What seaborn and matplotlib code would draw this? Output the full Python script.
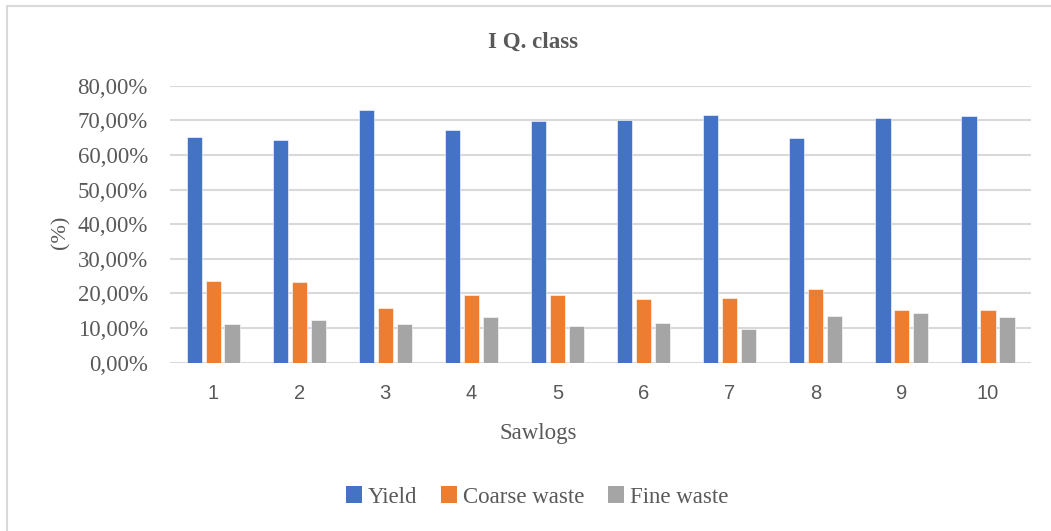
import matplotlib
matplotlib.use("Agg")
import matplotlib.pyplot as plt
from matplotlib.patches import Rectangle, Patch
from matplotlib.ticker import FuncFormatter, MultipleLocator
import seaborn as sns
import pandas as pd

# Sawlog processing results for the first quality class (percent of volume)
sawlogs = ["1", "2", "3", "4", "5", "6", "7", "8", "9", "10"]
yield_pct = [65.2, 64.2, 73.1, 67.1, 69.9, 70.0, 71.5, 64.8, 70.6, 71.3]
coarse_waste_pct = [23.6, 23.3, 15.7, 19.5, 19.5, 18.3, 18.6, 21.3, 15.1, 15.3]
fine_waste_pct = [11.1, 12.4, 11.1, 13.2, 10.6, 11.5, 9.7, 13.6, 14.3, 13.3]
series_names = ["Yield", "Coarse waste", "Fine waste"]
colors = ["#4472C4", "#ED7D31", "#A5A5A5"]

df = pd.DataFrame({
    "Sawlogs": sawlogs * 3,
    "value": yield_pct + coarse_waste_pct + fine_waste_pct,
    "series": [s for s in series_names for _ in sawlogs],
})

sns.set_theme(style="white")
plt.rcParams["font.family"] = ["Liberation Serif", "DejaVu Serif"]
text_color = "#595959"
grid_color = "#D9D9D9"

fig = plt.figure(figsize=(10.51, 5.31), dpi=100)
ax = fig.add_axes([0.1618, 0.317, 0.981 - 0.1618, 0.8386 - 0.317])

sns.barplot(data=df, x="Sawlogs", y="value", hue="series",
            palette=colors, saturation=1, width=0.66, gap=0.2, ax=ax,
            edgecolor="white", linewidth=0.4, legend=False, zorder=3)

ax.set_ylim(0, 80)
ax.set_xlim(-0.5, len(sawlogs) - 0.5)
ax.yaxis.set_major_locator(MultipleLocator(10))
ax.yaxis.set_major_formatter(
    FuncFormatter(lambda v, _: f"{v:.2f}%".replace(".", ",")))
ax.grid(axis="y", color=grid_color, linewidth=1.5, zorder=0)
ax.grid(axis="x", visible=False)
ax.set_axisbelow(True)
for side in ["top", "right", "left", "bottom"]:
    ax.spines[side].set_visible(False)
ax.tick_params(axis="both", length=0)
ax.tick_params(axis="y", pad=16, labelsize=16.5, labelcolor=text_color)
ax.tick_params(axis="x", pad=15, labelsize=14.5, labelcolor=text_color)
for lbl in ax.get_xticklabels():
    lbl.set_fontfamily(["Liberation Sans", "DejaVu Sans"])

ax.set_xlabel("")
ax.set_ylabel("(%)", fontsize=16, color=text_color)
ax.yaxis.set_label_coords(-0.116, 0.472)

# Category axis title, centred on the chart area
fig.text(538 / 1051, 1 - 433 / 531, "Sawlogs", ha="center", va="center",
         fontsize=16.5, color=text_color)

fig.text(0.507, 0.92, "I Q. class", ha="center", va="center",
         fontsize=16.5, fontweight="bold", color=text_color)

handles = [Patch(facecolor=c, edgecolor="none") for c in colors]
fig.legend(handles, series_names, loc="center", bbox_to_anchor=(537 / 1051, 0.064),
           ncol=3, frameon=False, fontsize=16.5, labelcolor=text_color,
           handlelength=0.7, handleheight=0.7, handletextpad=0.25,
           columnspacing=1.05)

# Chart-area frame
fig.patches.append(Rectangle((6.5 / 1051, -0.1), 1.2, 1.1 - 5.5 / 531,
                             transform=fig.transFigure, fill=False,
                             edgecolor=grid_color, linewidth=1.5))

fig.savefig("out.png", dpi=100, facecolor="white")
